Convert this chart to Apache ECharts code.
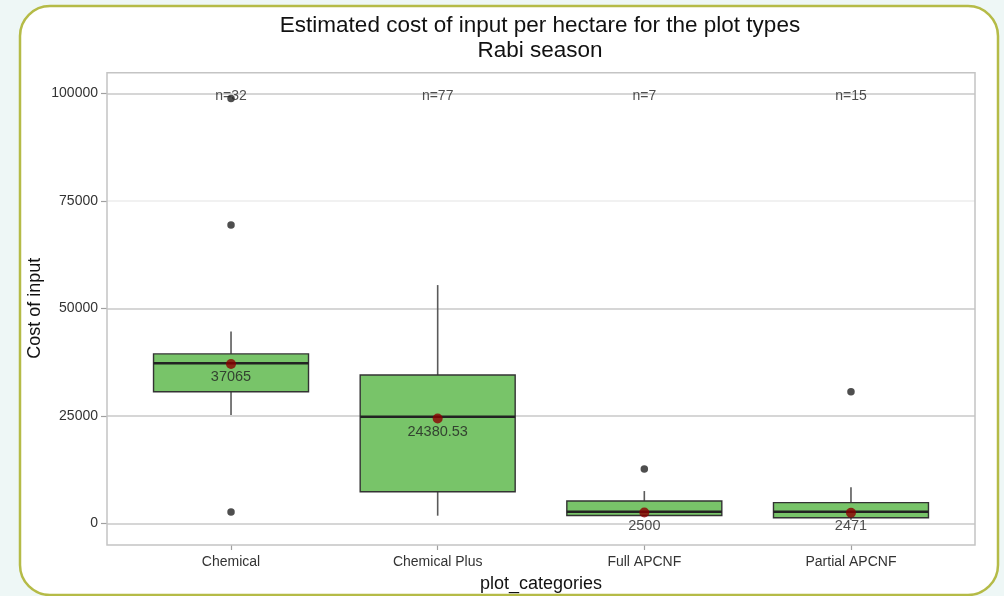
<!DOCTYPE html>
<html>
<head>
<meta charset="utf-8">
<script src="https://cdn.jsdelivr.net/npm/echarts@6/dist/echarts.min.js"></script>
<style>
html,body{margin:0;padding:0;background:#eef7f6;}
#c{width:1004px;height:596px;}
</style>
</head>
<body>
<div id="c"></div>
<script>
// ---- data ----
const categories = ["Chemical", "Chemical Plus", "Full APCNF", "Partial APCNF"];
// box statistics per category
const boxLow    = [25200, 1770, 1700, 800];
const boxQ1     = [30600, 7350, 1800, 1300];
const boxMedian = [37200, 24800, 2700, 2700];
const boxQ3     = [39400, 34500, 5200, 4800];
const boxHigh   = [44600, 55400, 7500, 8400];
const means      = [37065, 24380.53, 2500, 2471];
const meanLabels = ["37065", "24380.53", "2500", "2471"];
const counts     = ["n=32", "n=77", "n=7", "n=15"];
const countY     = 100000;
// outliers: [category index, value]
const outliers = [[0, 98800], [0, 69400], [0, 2600], [2, 12600], [3, 30600]];
const yTicks = [0, 25000, 50000, 75000, 100000];

const boxData = categories.map((c, i) => [i, boxLow[i], boxQ1[i], boxMedian[i], boxQ3[i], boxHigh[i]]);

const chart = echarts.init(document.getElementById('c'), null, {renderer: 'canvas'});
const font = '"Liberation Sans", Arial, sans-serif';

// plot geometry (pixels)
const panelTop = 72.7, panelBottom = 545, panelLeft = 107, panelRight = 975;
const y0px = 523.3, y100kpx = 93.3;
const pxPerUnit = (y0px - y100kpx) / 100000;
const yMinB = -(panelBottom - y0px) / pxPerUnit;

const option = {
  backgroundColor: '#eef7f6',
  animation: false,
  graphic: [
    {type: 'rect', z: -10, shape: {x: 20, y: 6, width: 978, height: 589, r: 30},
      style: {fill: '#ffffff', stroke: '#b5bb47', lineWidth: 2.5}},
    {type: 'rect', z: 100, silent: true, shape: {x: panelLeft, y: panelTop, width: panelRight - panelLeft, height: panelBottom - panelTop},
      style: {fill: 'none', stroke: '#c4c4c4', lineWidth: 1.5}},
    {type: 'text', x: 540, y: 26, z: 100,
      style: {text: 'Estimated cost of input per hectare for the plot types', textAlign: 'center', textVerticalAlign: 'middle',
        font: '22.5px ' + font, fill: '#111111'}},
    {type: 'text', x: 540, y: 51, z: 100,
      style: {text: 'Rabi season', textAlign: 'center', textVerticalAlign: 'middle',
        font: '22.5px ' + font, fill: '#111111'}}
  ],
  grid: [
    {left: panelLeft, right: 1004 - panelRight, top: y100kpx, bottom: 596 - y0px, containLabel: false, outerBoundsMode: 'none'},
    {left: 127.7, right: 49.7, top: y100kpx, bottom: 596 - panelBottom, containLabel: false, outerBoundsMode: 'none'}
  ],
  xAxis: [
    {gridIndex: 0, type: 'value', show: false, min: 0, max: 1},
    {gridIndex: 1, type: 'category', data: categories,
      axisLine: {show: false, onZero: false},
      axisTick: {show: true, alignWithLabel: true, length: 5, lineStyle: {color: '#a0a0a0', width: 1.2}},
      axisLabel: {color: '#333333', fontSize: 14, fontFamily: font, margin: 10},
      splitLine: {show: false},
      name: 'plot_categories', nameLocation: 'middle', nameGap: 30, nameMoveOverlap: false,
      nameTextStyle: {color: '#111111', fontSize: 18, fontFamily: font}}
  ],
  yAxis: [
    {gridIndex: 0, type: 'value', min: 0, max: 100000, interval: 25000,
      axisLine: {show: false},
      axisTick: {show: true, length: 6, lineStyle: {color: '#a0a0a0', width: 1.2}},
      axisLabel: {color: '#333333', fontSize: 14, fontFamily: font, margin: 9, formatter: v => String(v)},
      splitLine: {show: true, lineStyle: {color: ['#c8c8c8', '#c8c8c8', '#c8c8c8', '#ececec', '#c8c8c8'], width: 1.5}},
      name: 'Cost of input', nameLocation: 'middle', nameGap: 63, nameMoveOverlap: false,
      nameTextStyle: {color: '#111111', fontSize: 18, fontFamily: font}},
    {gridIndex: 1, type: 'value', min: yMinB, max: 100000, show: false, splitLine: {show: false}}
  ],
  series: [
    {
      type: 'custom', xAxisIndex: 1, yAxisIndex: 1, z: 2,
      data: boxData,
      renderItem: function (params, api) {
        const x = api.value(0);
        const pLow = api.coord([x, api.value(1)]);
        const pQ1 = api.coord([x, api.value(2)]);
        const pMed = api.coord([x, api.value(3)]);
        const pQ3 = api.coord([x, api.value(4)]);
        const pHigh = api.coord([x, api.value(5)]);
        const bw = api.size([1, 0])[0] * 0.75;
        const cx = pQ1[0];
        return {
          type: 'group',
          children: [
            {type: 'line', shape: {x1: cx, y1: pQ3[1], x2: cx, y2: pHigh[1]}, style: {stroke: '#5a5a5a', lineWidth: 1.6}},
            {type: 'line', shape: {x1: cx, y1: pQ1[1], x2: cx, y2: pLow[1]}, style: {stroke: '#5a5a5a', lineWidth: 1.6}},
            {type: 'rect', shape: {x: cx - bw / 2, y: pQ3[1], width: bw, height: pQ1[1] - pQ3[1]},
              style: {fill: '#78c469', stroke: '#333333', lineWidth: 1.4}},
            {type: 'line', shape: {x1: cx - bw / 2, y1: pMed[1], x2: cx + bw / 2, y2: pMed[1]}, style: {stroke: '#222222', lineWidth: 2.5}}
          ]
        };
      }
    },
    {
      type: 'scatter', xAxisIndex: 1, yAxisIndex: 1, z: 3,
      data: outliers, symbol: 'circle', symbolSize: 7.5,
      itemStyle: {color: '#222222'}
    },
    {
      type: 'scatter', xAxisIndex: 1, yAxisIndex: 1, z: 4,
      data: means.map((v, i) => ({value: [i, v], label: {formatter: meanLabels[i]}})),
      symbol: 'circle', symbolSize: 10,
      itemStyle: {color: '#8b0000'},
      label: {show: true, position: 'bottom', distance: 1, color: '#222222', fontSize: 14.5, fontFamily: font}
    },
    {
      type: 'scatter', xAxisIndex: 1, yAxisIndex: 1, z: 5,
      data: counts.map((t, i) => ({value: [i, countY], label: {formatter: t}})),
      symbolSize: 0,
      label: {show: true, position: 'inside', offset: [0, 3], color: '#222222', fontSize: 14, fontFamily: font}
    }
  ]
};
chart.setOption(option);
</script>
</body>
</html>
